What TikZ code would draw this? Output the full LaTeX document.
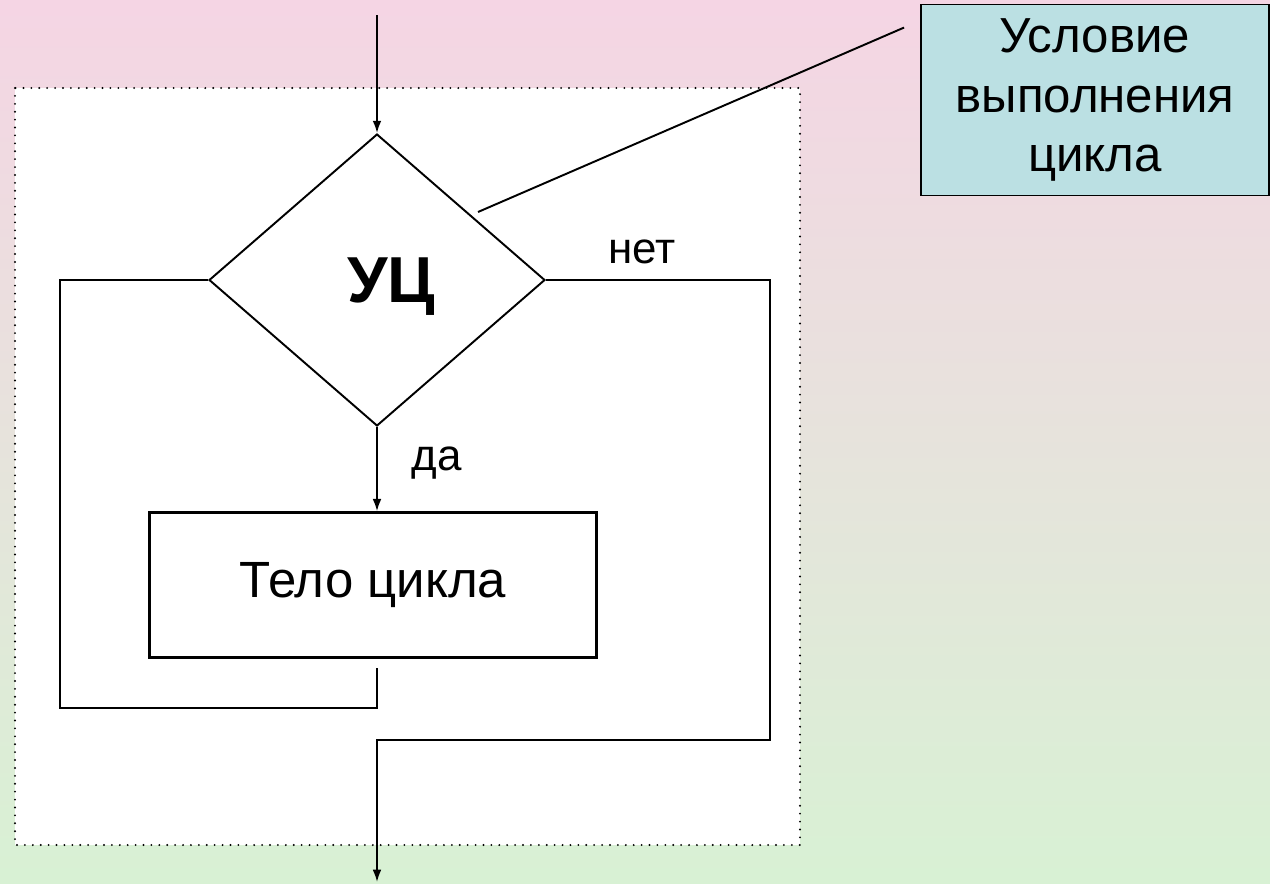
\documentclass[tikz,border=0pt]{standalone}
\usepackage{fontspec}
\setmainfont{Liberation Sans}
\usetikzlibrary{shapes.geometric,arrows.meta}

\definecolor{bgtop}{RGB}{245,213,228}
\definecolor{bgbot}{RGB}{216,241,212}
\definecolor{notefill}{RGB}{187,224,227}

\tikzset{
	line/.style={line width=1.1pt},
	arr/.style={line, -{Latex[length=7pt,width=5pt]}},
	frame/.style={line width=1.2pt, line cap=round, dash pattern=on 0pt off 4.5pt, fill=white},
	cond/.style={diamond, draw, line, fill=white, inner sep=0pt,
		minimum width=6.72cm, minimum height=5.84cm},
	block/.style={rectangle, draw, line width=1.4pt, fill=white, inner sep=0pt,
		minimum width=8.94cm, minimum height=2.9cm,
		font=\fontsize{29}{34}\selectfont},
	note/.style={rectangle, draw, line, fill=notefill, inner sep=0pt, align=center,
		minimum width=6.96cm, minimum height=3.82cm,
		font=\fontsize{28}{34}\selectfont},
	lbl/.style={font=\fontsize{25}{30}\selectfont}
}

\begin{document}
\begin{tikzpicture}[x=0.02cm, y=-0.02cm]
		\useasboundingbox (0,0) rectangle (1270,883);
		\shade[top color=bgtop, bottom color=bgbot] (0,0) rectangle (1270,883);
		\draw[frame] (15,88) rectangle (800,845);
		
		\node[cond]  (uc)   at (377,280)  {};
		\node[font=\fontsize{37}{42}\selectfont\bfseries] (ucl) at (391,287) {УЦ};
		\node[block] (body) at (373,585)  {Тело цикла};
		\node[note]  (cap)  at (1095,100) {Условие\\ выполнения\\ цикла};
		\node[lbl]   (no)   at (642,252)  {нет};
		\node[lbl]   (yes)  at (437,463)  {да};
		
		\coordinate (in)   at (377,15);
		\coordinate (out)  at (377,882);
		\coordinate (lft)  at (60,708);
		\coordinate (back) at (377,668);
		\coordinate (rgt)  at (770,740);
		\coordinate (tip)  at (478,212);
		
		\draw[arr]  (in) -- (uc.north);
		\draw[arr]  (uc.south) -- (uc.south |- body.north);
		\draw[line] (uc.west) -- (uc.west -| lft) -- (lft) -- (lft -| back) -- (back);
		\draw[arr]  (uc.east) -- (uc.east -| rgt) -- (rgt) -- (rgt -| out) -- (out);
		\draw[line] (tip) -- ([shift={(-16,24)}]cap.north west);
\end{tikzpicture}
\end{document}
